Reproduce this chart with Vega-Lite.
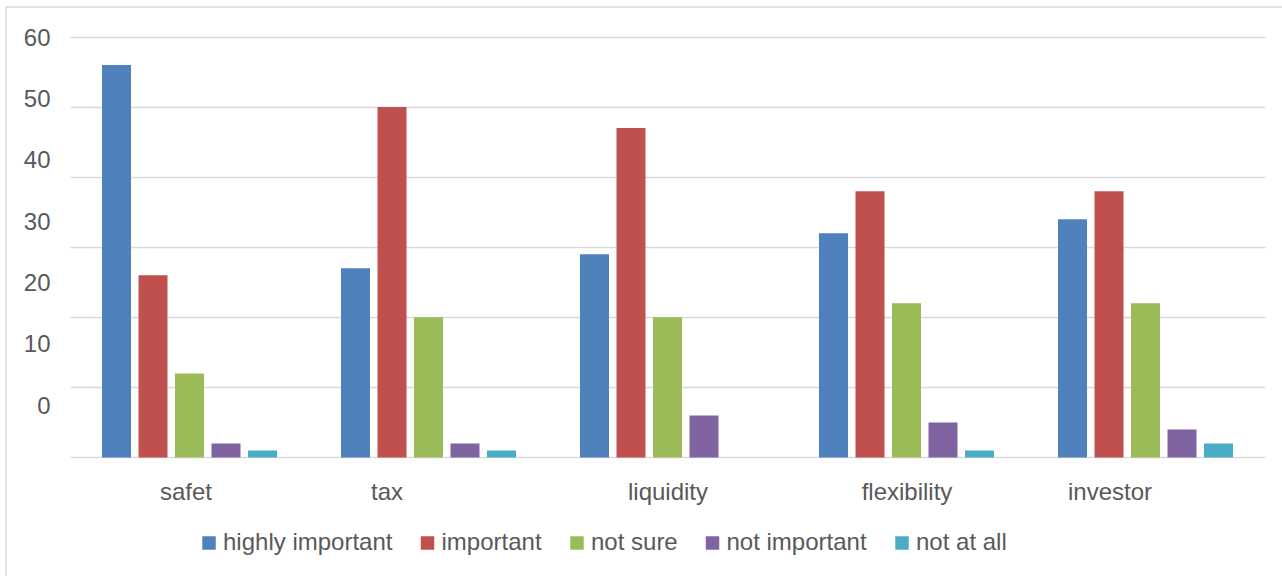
{
  "$schema": "https://vega.github.io/schema/vega-lite/v6.json",
  "width": 1278,
  "height": 571,
  "autosize": {"type": "none"},
  "padding": {"left": 6, "top": 7, "right": -2, "bottom": -2},
  "background": "white",
  "config": {
    "font": "Liberation Sans",
    "view": {"stroke": "#D9D9D9", "strokeWidth": 1.5}
  },
  "data": {
    "values": [
      {"factor": "safet", "rating": "highly important", "percent": 56},
      {"factor": "safet", "rating": "important", "percent": 26},
      {"factor": "safet", "rating": "not sure", "percent": 12},
      {"factor": "safet", "rating": "not important", "percent": 2},
      {"factor": "safet", "rating": "not at all", "percent": 1},
      {"factor": "tax", "rating": "highly important", "percent": 27},
      {"factor": "tax", "rating": "important", "percent": 50},
      {"factor": "tax", "rating": "not sure", "percent": 20},
      {"factor": "tax", "rating": "not important", "percent": 2},
      {"factor": "tax", "rating": "not at all", "percent": 1},
      {"factor": "liquidity", "rating": "highly important", "percent": 29},
      {"factor": "liquidity", "rating": "important", "percent": 47},
      {"factor": "liquidity", "rating": "not sure", "percent": 20},
      {"factor": "liquidity", "rating": "not important", "percent": 6},
      {"factor": "liquidity", "rating": "not at all", "percent": 0},
      {"factor": "flexibility", "rating": "highly important", "percent": 32},
      {"factor": "flexibility", "rating": "important", "percent": 38},
      {"factor": "flexibility", "rating": "not sure", "percent": 22},
      {"factor": "flexibility", "rating": "not important", "percent": 5},
      {"factor": "flexibility", "rating": "not at all", "percent": 1},
      {"factor": "investor", "rating": "highly important", "percent": 34},
      {"factor": "investor", "rating": "important", "percent": 38},
      {"factor": "investor", "rating": "not sure", "percent": 22},
      {"factor": "investor", "rating": "not important", "percent": 4},
      {"factor": "investor", "rating": "not at all", "percent": 2}
    ]
  },
  "mark": {"type": "bar"},
  "encoding": {
    "x": {
      "field": "factor",
      "type": "nominal",
      "sort": ["safet", "tax", "liquidity", "flexibility", "investor"],
      "scale": {"paddingInner": 0, "paddingOuter": 0.17364, "align": 0.77108},
      "axis": {
        "orient": "bottom",
        "offset": -120.5,
        "title": null,
        "domain": false,
        "ticks": false,
        "tickSize": 0,
        "labelAngle": 0,
        "labelPadding": 41.5,
        "labelBaseline": "alphabetic",
        "labelFontSize": 24,
        "labelColor": "#595959",
        "labelOverlap": false,
        "encoding": {
          "labels": {
            "dx": {"value": {"expr": "datum.value === 'tax' ? -41.5 : datum.value === 'investor' ? -35.5 : datum.value === 'safet' ? -3.5 : 0.5"}}
          }
        }
      }
    },
    "xOffset": {
      "field": "rating",
      "type": "nominal",
      "sort": ["highly important", "important", "not sure", "not important", "not at all"],
      "scale": {"paddingInner": 0.2055, "paddingOuter": 0.877}
    },
    "y": {
      "field": "percent",
      "type": "quantitative",
      "scale": {"domain": [-17.194, 64.281], "nice": false, "zero": false},
      "axis": {
        "orient": "left",
        "offset": -1259,
        "values": [0, 10, 20, 30, 40, 50, 60],
        "title": null,
        "domain": false,
        "grid": false,
        "ticks": true,
        "tickSize": 1195,
        "tickColor": "#D9D9D9",
        "tickWidth": 1.5,
        "labelPadding": 20,
        "labelAlign": "right",
        "labelBaseline": "middle",
        "labelFontSize": 24,
        "labelColor": "#595959",
        "labelOverlap": false,
        "encoding": {
          "labels": {
            "dy": {"value": {"expr": "1.2 - (60 - datum.value) * 0.875"}}
          }
        }
      }
    },
    "y2": {"datum": 0},
    "color": {
      "field": "rating",
      "type": "nominal",
      "scale": {
        "domain": ["highly important", "important", "not sure", "not important", "not at all"],
        "range": ["#4F81BD", "#C0504D", "#9BBB59", "#8064A2", "#4BACC6"]
      },
      "legend": {
        "orient": "none",
        "legendX": 191,
        "legendY": 524,
        "direction": "horizontal",
        "columns": 5,
        "title": null,
        "padding": 0,
        "symbolType": "square",
        "symbolSize": 182,
        "symbolStrokeWidth": 0,
        "symbolOpacity": 1,
        "labelFontSize": 24,
        "labelColor": "#595959",
        "labelOffset": 2,
        "labelLimit": 400,
        "columnPadding": 22.5
      }
    }
  }
}
